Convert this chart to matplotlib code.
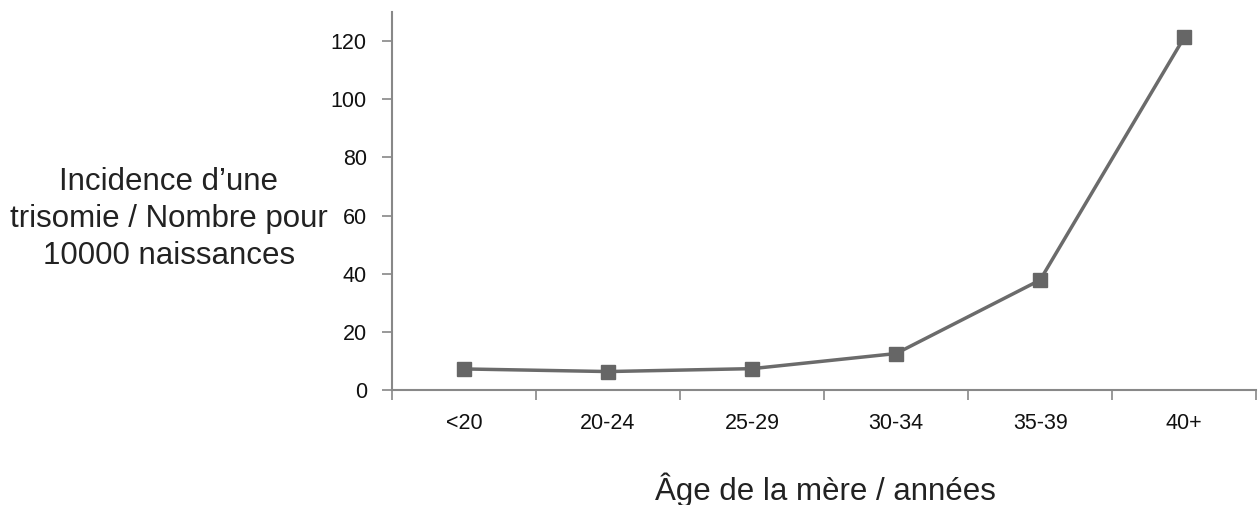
import matplotlib
matplotlib.use('Agg')
import matplotlib.pyplot as plt

# data
age_groups = ['<20', '20-24', '25-29', '30-34', '35-39', '40+']
incidence = [7.2, 6.3, 7.3, 12.5, 37.8, 121.3]
y_ticks = [0, 20, 40, 60, 80, 100, 120]

plt.rcParams['font.family'] = ['Liberation Sans', 'DejaVu Sans']

fig = plt.figure(figsize=(12.6, 5.05), dpi=100)
ax = fig.add_axes([0.311, 0.228, 0.686, 0.748])

x = list(range(len(age_groups)))
ax.plot(x, incidence, color='#6b6b6b', linewidth=2.5, marker='s',
        markersize=10.5, markerfacecolor='#666666', markeredgecolor='#666666')

ax.set_xlim(-0.5, len(age_groups) - 0.5)
ax.set_ylim(0, 130)
ax.set_yticks(y_ticks)
ax.set_xticks(x)
ax.set_xticklabels(age_groups)
ax.set_xticks([i - 0.5 for i in range(len(age_groups) + 1)], minor=True)
ax.tick_params(axis='x', which='major', length=0, pad=17, labelsize=15.5, labelcolor='#111111')
ax.tick_params(axis='x', which='minor', length=7, width=1.2, color='#888888', direction='out')
ax.tick_params(axis='y', length=7, width=1.2, color='#888888', labelsize=15.5,
               labelcolor='#111111', pad=11)

for side in ['top', 'right']:
    ax.spines[side].set_visible(False)
for side in ['left', 'bottom']:
    ax.spines[side].set_color('#888888')
    ax.spines[side].set_linewidth(1.5)

fig.text(0.134, 0.567, 'Incidence d\u2019une\ntrisomie / Nombre pour\n10000 naissances',
         ha='center', va='center', fontsize=22.5, color='#222222', linespacing=1.3)
fig.text(0.655, 0.03, '\u00c2ge de la m\u00e8re / ann\u00e9es',
         ha='center', va='center', fontsize=22.5, color='#222222')

fig.savefig('out.png', dpi=100)
